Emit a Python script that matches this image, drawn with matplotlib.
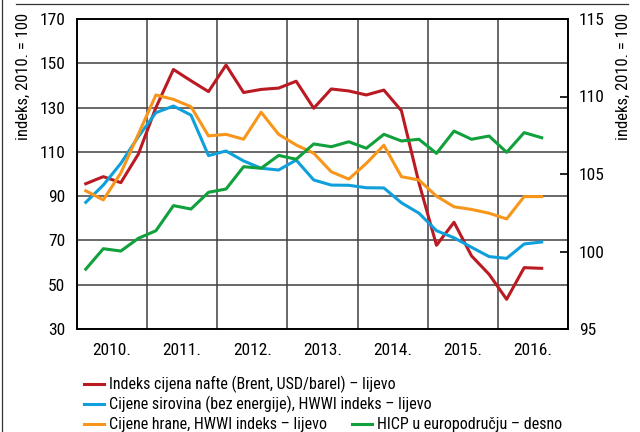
import numpy as np
import matplotlib
matplotlib.use("Agg")
import matplotlib.pyplot as plt
from matplotlib.lines import Line2D

plt.rcParams['font.family'] = ['Roboto Condensed', 'Archivo Narrow', 'DejaVu Sans']

# quarterly data, 2010Q1 - 2016Q3
quarters = np.arange(27)
years = [2010, 2011, 2012, 2013, 2014, 2015, 2016]
year_labels = ['2010.', '2011.', '2012.', '2013.', '2014.', '2015.', '2016.']

oil = [95.6, 98.8, 96.1, 109.0, 130.0, 147.2, 142.1, 137.2, 149.2, 136.8,
       138.2, 138.8, 141.9, 129.7, 138.4, 137.5, 135.7, 137.9, 128.6, 96.0,
       67.8, 78.2, 63.0, 54.7, 43.4, 57.7, 57.4]
raw = [87.2, 95.0, 104.8, 116.9, 127.7, 130.7, 126.6, 108.3, 110.4, 105.9,
       102.6, 101.8, 106.3, 97.3, 95.0, 94.9, 93.8, 93.7, 87.0, 82.3,
       74.4, 71.2, 66.9, 62.7, 61.9, 68.4, 69.3]
food = [92.4, 88.3, 100.5, 118.0, 135.7, 133.7, 130.4, 117.2, 117.9, 115.7,
        127.9, 117.9, 113.1, 109.4, 101.0, 97.7, 104.8, 113.0, 98.8, 97.3,
        90.0, 85.2, 84.0, 82.3, 79.7, 89.8, 89.8]
hicp = [98.86, 100.18, 100.03, 100.85, 101.34, 102.96, 102.74, 103.82, 104.03, 105.47,
        105.37, 106.20, 105.95, 106.94, 106.76, 107.08, 106.66, 107.56, 107.13, 107.24,
        106.33, 107.77, 107.24, 107.45, 106.40, 107.67, 107.34]

labels = ['Indeks cijena nafte (Brent, USD/barel) – lijevo',
          'Cijene sirovina (bez energije), HWWI indeks – lijevo',
          'Cijene hrane, HWWI indeks – lijevo',
          'HICP u europodručju – desno']
colors = ['#BA1A22', '#0FA0DC', '#F7961A', '#10A03C']

W, H = 640, 432
x = 2010 + (quarters + 0.5) / 4

fig = plt.figure(figsize=(6.4, 4.32), dpi=100)
ax = fig.add_axes([77 / W, 1 - 329 / H, (568 - 77) / W, (329 - 19) / H])
ax2 = ax.twinx()

ax.plot(x, oil, color=colors[0], lw=2.2, zorder=3)
ax.plot(x, raw, color=colors[1], lw=2.2, zorder=3)
ax.plot(x, food, color=colors[2], lw=2.2, zorder=3)
ax2.plot(x, hicp, color=colors[3], lw=2.2, zorder=3)

ax.set_xlim(2010, 2017)
ax.set_ylim(30, 170)
ax.set_yticks(range(30, 171, 20))
ax2.set_ylim(95, 115)
ax2.set_yticks(range(95, 116, 5))

ax.set_xticks(range(2010, 2018))
ax.set_xticklabels([])
ax.set_xticks([y + 0.5 for y in years], minor=True)
ax.set_xticklabels(year_labels, minor=True)
ax.tick_params(axis='x', which='both', length=0, pad=10, labelsize=12.5)
ax.tick_params(axis='y', length=0, pad=8.5, labelsize=12.5)
ax2.tick_params(axis='y', direction='in', length=6, width=1.2, pad=8, labelsize=12.5)

ax.grid(True, color='#404040', lw=1.1)
ax.set_axisbelow(True)
for a in (ax, ax2):
    for s in a.spines.values():
        s.set_linewidth(1.2)
        s.set_color('black')

# axis titles at the top of each side
fig.text(23 / W, 1 - 13 / H, 'indeks, 2010. = 100', rotation=90,
         ha='center', va='top', fontsize=12)
fig.text(623 / W, 1 - 13 / H, 'indeks, 2010. = 100', rotation=90,
         ha='center', va='top', fontsize=12)

# outer frame lines
fig.add_artist(Line2D([16 / W, 628 / W], [1 - 4 / H, 1 - 4 / H], color='#333333', lw=0.9))
fig.add_artist(Line2D([1.5 / W, 1.5 / W], [0, 1], color='#333333', lw=0.9))

# legend
entries = [(84, 384, 0), (84, 404, 1), (84, 424, 2), (352, 424, 3)]
for lx, ly, k in entries:
    fig.add_artist(Line2D([lx / W, (lx + 20) / W], [1 - ly / H, 1 - ly / H],
                          color=colors[k], lw=2.2))
    fig.text((lx + 25) / W, 1 - ly / H, labels[k], ha='left', va='center', fontsize=11.5)

fig.savefig('out.png', dpi=100)
